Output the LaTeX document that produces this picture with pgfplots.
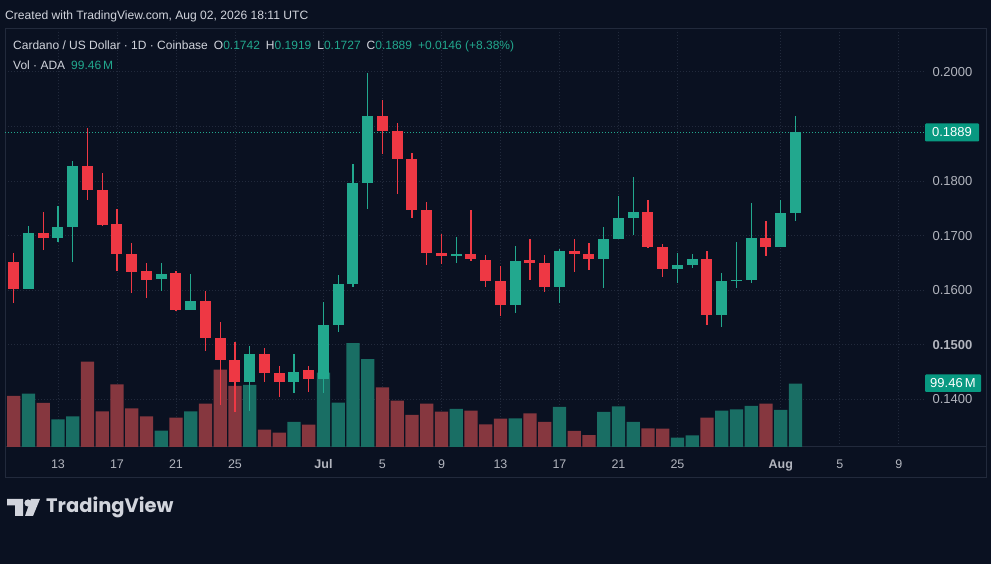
\documentclass[border=0pt]{standalone}
\usepackage{pgfplots}
\pgfplotsset{compat=1.18}
\usepackage{pgfplotstable}
\usepackage{fontspec}
\setmainfont{Liberation Sans}
\newfontfamily\logofont{Poppins}

\definecolor{bg}{RGB}{10,17,33}
\definecolor{gridc}{RGB}{34,42,60}
\definecolor{upc}{RGB}{34,168,142}
\definecolor{dnc}{RGB}{238,56,68}
\definecolor{upv}{RGB}{25,110,100}
\definecolor{dnv}{RGB}{134,55,63}
\definecolor{txt}{RGB}{209,212,220}
\definecolor{lbl}{RGB}{178,181,190}
\definecolor{boxc}{RGB}{8,153,129}

% up (green) candles: day index (Jul 1 = 0), open, high, low, close, volume (M)
\pgfplotstableread{
d o h l c v
-20 0.1603 0.1718 0.1602 0.1704 83.8
-18 0.1695 0.1755 0.1689 0.1716 43.5
-17 0.1715 0.1837 0.1652 0.1828 48.2
-11 0.1620 0.1649 0.1599 0.1630 25.7
-9 0.1564 0.1630 0.1564 0.1581 56.0
-5 0.1431 0.1498 0.1379 0.1483 97.4
-2 0.1431 0.1483 0.1412 0.1451 39.3
0 0.1437 0.1578 0.1412 0.1536 116.7
1 0.1536 0.1627 0.1523 0.1611 69.6
2 0.1612 0.1831 0.1605 0.1796 162.8
3 0.1796 0.1998 0.1748 0.1919 137.7
9 0.1663 0.1698 0.1649 0.1666 59.7
13 0.1572 0.1681 0.1559 0.1653 45.0
16 0.1605 0.1675 0.1576 0.1672 62.8
19 0.1657 0.1716 0.1604 0.1693 55.0
20 0.1693 0.1773 0.1693 0.1733 63.9
21 0.1733 0.1807 0.1701 0.1743 39.3
24 0.1638 0.1669 0.1613 0.1646 14.7
25 0.1647 0.1666 0.1641 0.1657 18.3
27 0.1555 0.1632 0.1532 0.1616 57.1
28 0.1617 0.1688 0.1604 0.1619 59.2
29 0.1619 0.1759 0.1613 0.1696 64.4
31 0.1680 0.1765 0.1680 0.1742 58.1
32 0.1742 0.1919 0.1727 0.1889 99.46
}\up

% down (red) candles
\pgfplotstableread{
d o h l c v
-21 0.1651 0.1668 0.1577 0.1603 80.1
-19 0.1705 0.1743 0.1674 0.1695 69.1
-16 0.1828 0.1898 0.1766 0.1783 134.0
-15 0.1784 0.1814 0.1718 0.1720 56.0
-14 0.1722 0.1748 0.1636 0.1666 98.4
-13 0.1666 0.1687 0.1595 0.1633 60.7
-12 0.1635 0.1649 0.1586 0.1618 48.2
-10 0.1631 0.1635 0.1561 0.1564 46.1
-8 0.1581 0.1599 0.1489 0.1512 68.1
-7 0.1512 0.1541 0.1390 0.1472 121.5
-6 0.1473 0.1506 0.1376 0.1431 95.8
-4 0.1483 0.1495 0.1431 0.1448 27.2
-3 0.1448 0.1462 0.1404 0.1431 22.5
-1 0.1453 0.1461 0.1413 0.1437 35.1
4 0.1919 0.1948 0.1850 0.1892 93.7
5 0.1892 0.1906 0.1777 0.1840 72.8
6 0.1840 0.1851 0.1732 0.1746 50.3
7 0.1747 0.1761 0.1646 0.1668 68.1
8 0.1668 0.1703 0.1648 0.1663 55.5
10 0.1666 0.1747 0.1654 0.1657 57.1
11 0.1655 0.1664 0.1606 0.1617 35.6
12 0.1617 0.1644 0.1552 0.1572 44.5
14 0.1655 0.1693 0.1619 0.1649 52.9
15 0.1649 0.1664 0.1596 0.1605 39.3
17 0.1672 0.1693 0.1633 0.1666 25.1
18 0.1667 0.1687 0.1637 0.1657 18.8
22 0.1743 0.1766 0.1678 0.1680 29.3
23 0.1680 0.1685 0.1625 0.1638 28.8
26 0.1657 0.1672 0.1536 0.1555 46.1
30 0.1696 0.1726 0.1663 0.1680 68.1
}\dn

\pgfplotsset{tvaxis/.style={at={(5pt,117pt)}, anchor=south west, scale only axis,
  width=920pt, height=417pt, xmin=-21.59, xmax=40.78}}

\begin{document}
\begin{tikzpicture}[x=1pt,y=1pt]
\fill[bg] (0,0) rectangle (991,564);
\useasboundingbox (0,0) rectangle (991,564);

% panel border
\draw[gridc, line width=1pt] (5.5,535) rectangle (986.5,86);
\draw[gridc, line width=1pt] (5,117) -- (987,117);

% grid and tick labels
\begin{axis}[tvaxis, ymin=0.13128, ymax=0.20766,
  axis line style={draw=none}, major tick length=0pt, scaled y ticks=false,
  xtick={-18,-14,-10,-6,0,4,8,12,16,20,24,31,35,39},
  xticklabels={13,17,21,25,\textbf{Jul},5,9,13,17,21,25,\textbf{Aug},5,9},
  ytick={0.14,0.15,0.16,0.17,0.18,0.20},
  yticklabels={0.1400,\textbf{0.1500},0.1600,0.1700,0.1800,0.2000},
  extra y ticks={0.19}, extra y tick labels={},
  yticklabel pos=right,
  grid=major, major grid style={gridc, line width=0.8pt, dash pattern=on 1pt off 2pt},
  xticklabel style={font=\fontsize{12.5}{14}\selectfont, text=lbl, yshift=-9pt},
  yticklabel style={font=\fontsize{13}{15}\selectfont, text=lbl, xshift=4pt},
]
\addplot[draw=none] coordinates {(0,0.15)};
\end{axis}

% volume
\begin{axis}[tvaxis, ymin=0, ymax=654.2, hide axis]
\addplot[ybar, bar width=13.2pt, bar shift=0pt, fill=upv, draw=none] table[x=d,y=v]{\up};
\addplot[ybar, bar width=13.2pt, bar shift=0pt, fill=dnv, draw=none] table[x=d,y=v]{\dn};
\end{axis}

% candles
\begin{axis}[tvaxis, ymin=0.13128, ymax=0.20766, hide axis]
\draw[upc, line width=0.9pt, dash pattern=on 1pt off 2pt] (axis cs:-21.59,0.1889) -- (axis cs:40.78,0.1889);
\addplot[draw=none, forget plot, error bars/.cd, y dir=both, y explicit, error mark=none,
  error bar style={draw=upc, solid, line width=1.3pt}]
  table[x=d, y expr={(\thisrow{h}+\thisrow{l})/2}, y error expr={(\thisrow{h}-\thisrow{l})/2}]{\up};
\addplot[draw=none, forget plot, error bars/.cd, y dir=both, y explicit, error mark=none,
  error bar style={draw=dnc, solid, line width=1.3pt}]
  table[x=d, y expr={(\thisrow{h}+\thisrow{l})/2}, y error expr={(\thisrow{h}-\thisrow{l})/2}]{\dn};
\addplot[draw=none, forget plot, error bars/.cd, y dir=both, y explicit, error mark=none,
  error bar style={draw=upc, solid, line width=11pt}]
  table[x=d, y expr={(\thisrow{o}+\thisrow{c})/2}, y error expr={max(abs(\thisrow{c}-\thisrow{o})/2,0.0001)}]{\up};
\addplot[draw=none, forget plot, error bars/.cd, y dir=both, y explicit, error mark=none,
  error bar style={draw=dnc, solid, line width=11pt}]
  table[x=d, y expr={(\thisrow{o}+\thisrow{c})/2}, y error expr={max(abs(\thisrow{c}-\thisrow{o})/2,0.0001)}]{\dn};
\end{axis}

% price / volume labels
\fill[boxc, rounded corners=1pt] (925,422.5) rectangle (979,440.5);
\node[text=white, font=\fontsize{13}{15}\selectfont, inner sep=0] at (952,431.5) {0.1889};
\fill[boxc, rounded corners=1pt] (925,172) rectangle (981,189.5);
\node[text=white, font=\fontsize{13}{15}\selectfont, inner sep=0] at (953,180.8) {99.46\,M};

% header
\node[anchor=west, text=txt, font=\fontsize{12.1}{14}\selectfont, inner sep=0] at (5,548)
  {Created with TradingView.com, Aug 02, 2026 18:11 UTC};
\node[anchor=west, font=\fontsize{12}{14}\selectfont, inner sep=0] at (13,518)
  {\color{txt}Cardano / US Dollar · 1D · Coinbase\hspace{6pt}O\color{upc}0.1742\hspace{6pt}\color{txt}H\color{upc}0.1919\hspace{6pt}\color{txt}L\color{upc}0.1727\hspace{6pt}\color{txt}C\color{upc}0.1889\hspace{6pt}+0.0146 (+8.38\%)};
\node[anchor=west, font=\fontsize{12}{14}\selectfont, inner sep=0] at (13,499)
  {\color{txt}Vol · ADA\hspace{6pt}\color{upc}99.46\,M};

% logo
\fill[txt] (7,65) -- (23,65) -- (23,48) -- (15,48) -- (15,58.5) -- (7,58.5) -- cycle;
\fill[txt] (28,61) circle (3.6);
\fill[txt] (31,65) -- (40,65) -- (33,48) -- (25,48) -- cycle;
\node[anchor=west, text=txt, font=\logofont\bfseries\fontsize{19.5}{22}\selectfont, inner sep=0] at (46,57) {TradingView};
\end{tikzpicture}
\end{document}
